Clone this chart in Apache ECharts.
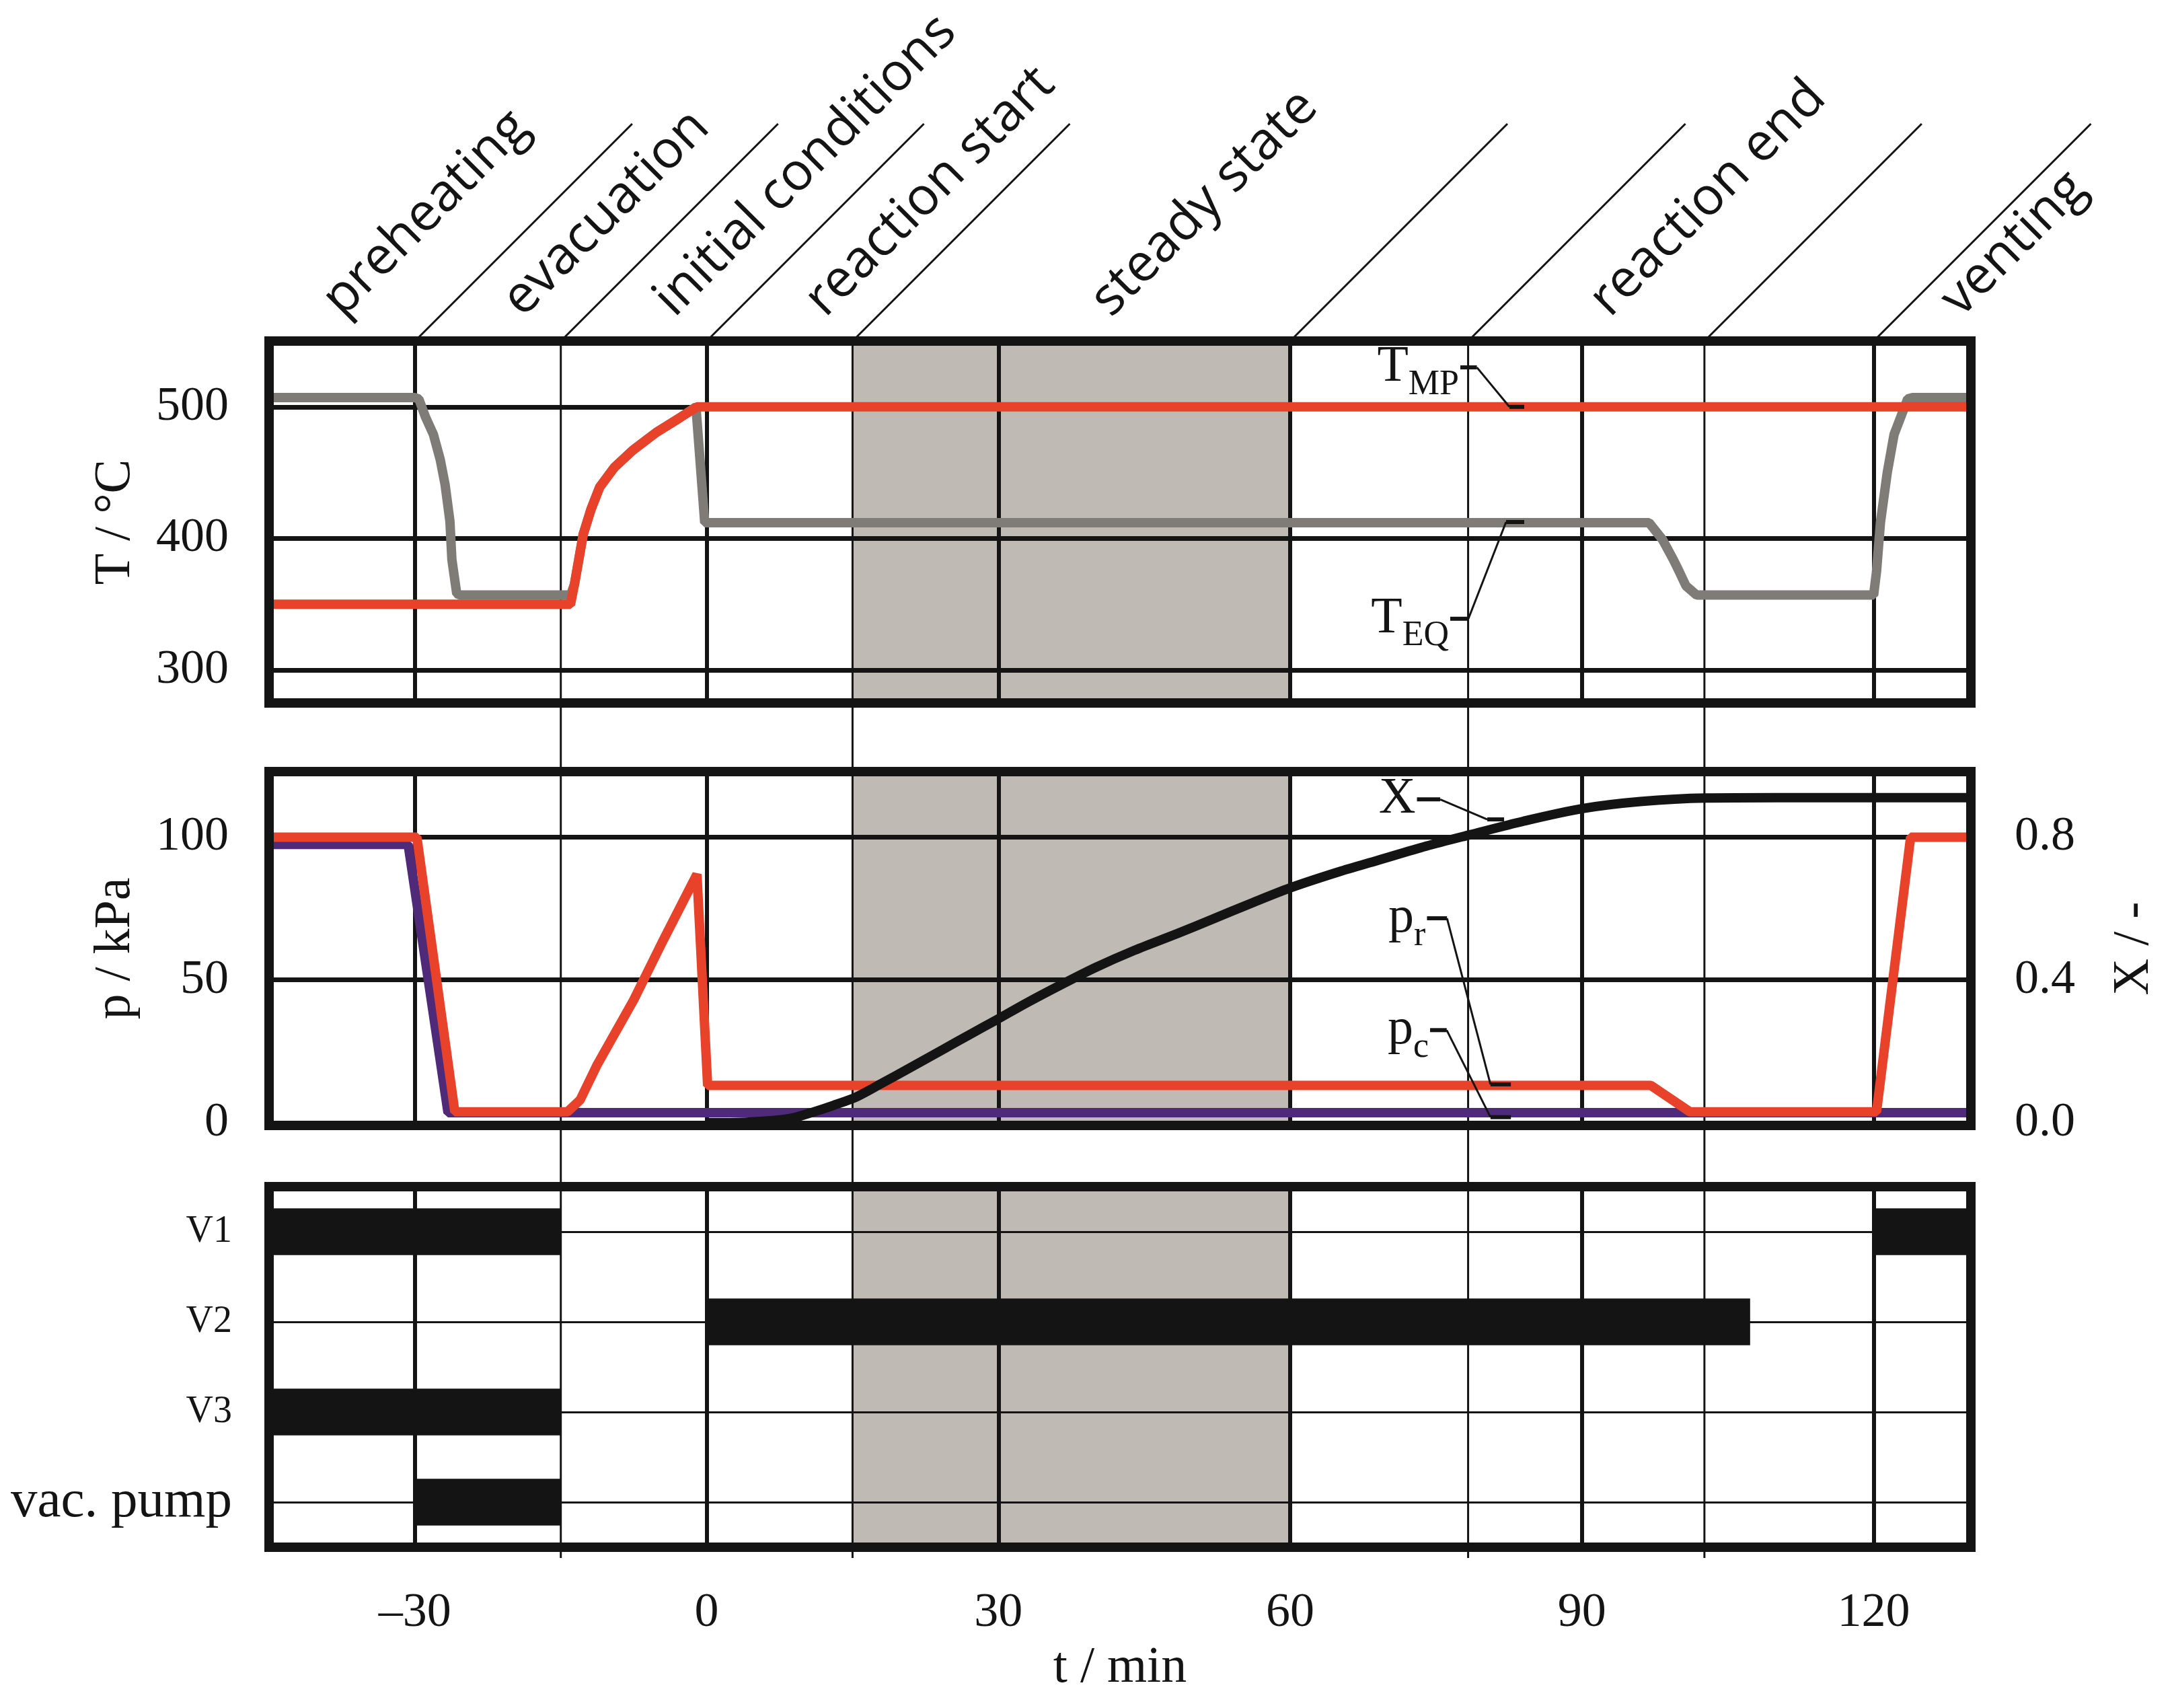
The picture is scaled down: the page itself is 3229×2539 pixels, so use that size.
<!DOCTYPE html>
<html><head><meta charset="utf-8">
<script src="https://cdn.jsdelivr.net/npm/echarts@6/dist/echarts.min.js"></script>
<style>html,body{margin:0;padding:0;background:#fff}#c{width:3229px;height:2539px}</style>
</head><body><div id="c"></div>
<script>
// ---------------- data ----------------
const timeTicks = [-30, 0, 30, 60, 90, 120];
const tempTicks = [300, 400, 500];
const pressTicks = [0, 50, 100];
const convTicks = [0.0, 0.4, 0.8];
const phaseBounds = [-30, -15, 0, 15, 60, 78.3, 102.6, 120];
const phaseThin = [-15, 15, 78.3, 102.6];
const phaseNames = ['preheating', 'evacuation', 'initial conditions', 'reaction start', 'steady state', 'reaction end', 'venting'];
const phaseLabelT = [-36.6, -18.1, -2.5, 13.0, 42.4, 93.7, 129.8];
const steadyState = [15, 60];

const T_MP = [[-45,350],[-14,350],[-13.6,365],[-13.15,384],[-12.7,403],[-11.9,422],[-11,439],[-9.5,454],[-7.6,467],[-5.2,480.5],[-2.7,492],[-1,500],[130,500]];
const T_EQ = [[-45,507],[-30,507],[-29.6,506],[-28.9,492],[-28.1,479],[-27.4,460],[-26.9,441],[-26.4,413],[-26.2,384],[-25.7,358],[-25.3,357],[-14,357],[-13.6,365],[-13.15,384],[-12.7,403],[-11.9,422],[-11,439],[-9.5,454],[-7.6,467],[-5.2,480.5],[-2.7,492],[-1.1,500],[-0.2,412],[96.9,412],[98.3,399],[99.4,384],[100,375],[100.7,364],[101.8,357],[120,357],[120.3,375],[120.7,412],[121.4,450],[122.1,479],[123.5,506],[124,507],[130,507]];
const p_r = [[-45,100],[-29.8,100],[-25.9,3.8],[-14.3,3.8],[-13,8],[-11.3,20],[-7.5,43],[-4.6,63],[-1,87],[0.1,13],[97.1,13],[101.1,3.8],[120.3,3.8],[123.8,100],[130,100]];
const p_c = [[-45,97.5],[-30.7,97.5],[-26.6,3.5],[130,3.5]];
const X = [[0,0],[4,0.001],[7,0.006],[9,0.014],[11,0.03],[13,0.048],[15.4,0.072],[18,0.11],[21,0.155],[24.3,0.205],[27,0.246],[29.8,0.288],[33,0.337],[36.7,0.39],[40,0.435],[44,0.483],[48.4,0.53],[52,0.57],[56,0.615],[60,0.658],[65,0.703],[69,0.735],[74,0.775],[78.5,0.807],[84,0.845],[90,0.88],[96,0.9],[102.8,0.91],[110,0.911],[130,0.911]];

const valveRows = ['V1', 'V2', 'V3', 'vac. pump'];
const valveBarRow = ['V1', 'V1', 'V2', 'V3', 'vac. pump'];
const valveStart = [-45, 120, 0, -45, -30];
const valveEnd = [-15, 130, 107.3, -15, -15];

// callouts: leader paths [t1,v1,t2,v2,t3,v3,t4,v4]
const tempCalloutMain = ['T', 'T'];
const tempCalloutSub = ['MP', 'EQ'];
const tempCalloutPath = [[77.5,530,79.2,530,82.55,500,84.07,500],[76.46,339,78.33,339,82.2,412.5,84.07,412.5]];
const pressCalloutMain = ['p', 'p'];
const pressCalloutSub = ['r', 'c'];
const pressCalloutPath = [[74.07,71.6,76.13,71.6,80.6,13.4,82.7,13.4],[74.39,32.4,76.1,32.4,80.6,1.9,82.7,1.9]];
const convCalloutMain = ['X'];
const convCalloutSub = [''];
const convCalloutPath = [[73.04,0.906,75.43,0.906,80.27,0.85,82.0,0.85]];

// ---------------- style / layout ----------------
const INK = '#141414', RED = '#e8422b', GRAY = '#7f7b76', PURPLE = '#4e2a78', SHADE = '#bfbab4';
const SERIF = 'Liberation Serif', SANS = 'Open Sans';
const L = {left: 400, width: 2530, p1: {top: 507, h: 538}, p2: {top: 1147, h: 526}, p3: {top: 1764, h: 536}, diagTop: 184, labelBase: 485};

const mc = document.createElement('canvas').getContext('2d');
function tw(txt, size, fam) { mc.font = size + 'px "' + fam + '"'; return mc.measureText(txt).width; }

const borderLine = {show: true, onZero: false, lineStyle: {color: INK, width: 14, cap: 'square'}};
const labelFont = {fontFamily: SERIF, fontSize: 72, color: INK};
const nameFont = {fontFamily: SERIF, fontSize: 76, color: INK};

function xAx(gridIndex, position, showLabels) {
  const a = {type: 'value', gridIndex, position, min: -45, max: 130, interval: 15, z: 10,
    axisLine: borderLine, axisTick: {show: false}, splitLine: {show: false}, axisLabel: {show: false}};
  if (showLabels) {
    a.axisLabel = Object.assign({show: true, margin: 62,
      formatter: v => timeTicks.includes(v) ? (v < 0 ? '\u2013' + (-v) : String(v)) : ''}, labelFont);
    a.name = 't / min'; a.nameLocation = 'middle'; a.nameGap = 142; a.nameTextStyle = nameFont;
  }
  return a;
}
function plainY(gridIndex, position) {
  return {type: 'value', gridIndex, position, min: 0, max: 1, z: 10, axisLine: borderLine,
    axisTick: {show: false}, splitLine: {show: false}, axisLabel: {show: false}};
}

function frameSeries(xi, yi, hVals, hWidth) {
  return [
    {type: 'line', xAxisIndex: xi, yAxisIndex: yi, data: [], z: 1, silent: true,
      markArea: {z: 1, silent: true, itemStyle: {color: SHADE}, data: [[{xAxis: steadyState[0]}, {xAxis: steadyState[1]}]]}},
    {type: 'line', xAxisIndex: xi, yAxisIndex: yi, data: [], z: 2, silent: true,
      markLine: {z: 2, silent: true, symbol: ['none', 'none'], label: {show: false}, animation: false,
        data: timeTicks.map(t => ({xAxis: t, lineStyle: {color: INK, width: 6, type: 'solid'}}))
          .concat(hVals.map(v => ({yAxis: v, lineStyle: {color: INK, width: hWidth, type: 'solid'}})))}}
  ];
}

function calloutSeries(xi, yi, mains, subs, paths) {
  return {type: 'custom', xAxisIndex: xi, yAxisIndex: yi, z: 6, silent: true,
    encode: {x: [0, 2, 4, 6], y: [1, 3, 5, 7]},
    data: paths,
    renderItem(params, api) {
      const i = params.dataIndex;
      const pts = [0, 1, 2, 3].map(k => api.coord([api.value(2 * k), api.value(2 * k + 1)]));
      const sub = subs[i], main = mains[i];
      const wSub = sub ? tw(sub, 52, SERIF) : 0;
      const gap = 2;
      const kids = [
        {type: 'line', shape: {x1: pts[0][0], y1: pts[0][1], x2: pts[1][0], y2: pts[1][1]}, style: {stroke: INK, lineWidth: 6}},
        {type: 'line', shape: {x1: pts[1][0], y1: pts[1][1], x2: pts[2][0], y2: pts[2][1]}, style: {stroke: INK, lineWidth: 3}},
        {type: 'line', shape: {x1: pts[2][0], y1: pts[2][1], x2: pts[3][0], y2: pts[3][1]}, style: {stroke: INK, lineWidth: 6}},
        {type: 'text', x: pts[0][0] - gap - wSub, y: pts[0][1],
          style: {text: main, fontSize: 76, fontFamily: SERIF, fill: INK, align: 'right', verticalAlign: 'middle'}}
      ];
      if (sub) kids.push({type: 'text', x: pts[0][0] - gap, y: pts[0][1] + 26,
        style: {text: sub, fontSize: 52, fontFamily: SERIF, fill: INK, align: 'right', verticalAlign: 'middle'}});
      return {type: 'group', children: kids};
    }};
}

const option = {
  animation: false,
  backgroundColor: '#ffffff',
  textStyle: {fontFamily: SERIF},
  grid: [
    {left: L.left, width: L.width, top: L.p1.top, height: L.p1.h, outerBoundsMode: 'none'},
    {left: L.left, width: L.width, top: L.p2.top, height: L.p2.h, outerBoundsMode: 'none'},
    {left: L.left, width: L.width, top: L.p3.top, height: L.p3.h, outerBoundsMode: 'none'},
    {left: L.left, width: L.width, top: 20, height: 2300, outerBoundsMode: 'none'}
  ],
  xAxis: [
    xAx(0, 'bottom', false), xAx(0, 'top', false),
    xAx(1, 'bottom', false), xAx(1, 'top', false),
    xAx(2, 'bottom', true), xAx(2, 'top', false),
    {type: 'value', gridIndex: 3, min: -45, max: 130, show: false}
  ],
  yAxis: [
    {type: 'value', gridIndex: 0, position: 'left', min: 275, max: 550, interval: 25, z: 10,
      axisLine: borderLine, axisTick: {show: false}, splitLine: {show: false},
      axisLabel: Object.assign({margin: 60, formatter: v => tempTicks.includes(v) ? String(v) : ''}, labelFont),
      name: 'T / \u00B0C', nameLocation: 'middle', nameGap: 190, nameTextStyle: nameFont},
    plainY(0, 'right'),
    {type: 'value', gridIndex: 1, position: 'left', min: -1, max: 123, interval: 1, z: 10,
      axisLine: borderLine, axisTick: {show: false}, splitLine: {show: false},
      axisLabel: Object.assign({margin: 60, formatter: v => pressTicks.includes(v) ? String(v) : ''}, labelFont),
      name: 'p / kPa', nameLocation: 'middle', nameGap: 190, nameTextStyle: nameFont},
    {type: 'value', gridIndex: 1, position: 'right', min: -0.008, max: 0.984, interval: 0.008, z: 10,
      axisLine: borderLine, axisTick: {show: false}, splitLine: {show: false},
      axisLabel: Object.assign({margin: 65, formatter: v => convTicks.some(c => Math.abs(c - v) < 1e-6) ? v.toFixed(1) : ''}, labelFont),
      name: 'X / -', nameLocation: 'middle', nameGap: 205, nameTextStyle: nameFont},
    {type: 'category', gridIndex: 2, position: 'left', data: valveRows, inverse: true, z: 10,
      axisLine: borderLine, axisTick: {show: false}, splitLine: {show: false},
      axisLabel: {margin: 55, color: INK, fontFamily: SERIF,
        formatter: v => v === 'vac. pump' ? '{b|' + v + '}' : '{s|' + v + '}',
        rich: {b: {fontSize: 79, fontFamily: SERIF, color: INK}, s: {fontSize: 56, fontFamily: SERIF, color: INK}}}},
    plainY(2, 'right'),
    {type: 'value', gridIndex: 3, min: 0, max: 1, show: false}
  ],
  series: [
    ...frameSeries(0, 0, tempTicks, 7),
    ...frameSeries(2, 2, [50, 100], 7),
    ...frameSeries(4, 4, valveRows, 3),
    // phase boundary lines
    {type: 'custom', xAxisIndex: 6, yAxisIndex: 6, z: 2, silent: true,
      data: phaseBounds.map(t => [t, 0]),
      renderItem(params, api) {
        const t = api.value(0);
        const x = api.coord([t, 0])[0];
        const rise = L.p1.top - L.diagTop;
        const kids = [{type: 'line', shape: {x1: x, y1: L.p1.top, x2: x + rise, y2: L.diagTop}, style: {stroke: INK, lineWidth: 3}}];
        if (phaseThin.includes(t)) kids.push({type: 'line', shape: {x1: x, y1: L.p1.top, x2: x, y2: L.p3.top + L.p3.h + 16}, style: {stroke: INK, lineWidth: 3}});
        return {type: 'group', children: kids};
      }},
    // phase labels
    {type: 'custom', xAxisIndex: 6, yAxisIndex: 6, z: 2, silent: true,
      data: phaseLabelT.map(t => [t, 0]),
      renderItem(params, api) {
        const x = api.coord([api.value(0), 0])[0];
        return {type: 'text', x: x, y: L.labelBase, rotation: Math.PI / 4,
          style: {text: phaseNames[params.dataIndex], fontSize: 78, fontFamily: SANS, fill: INK, align: 'left', verticalAlign: 'bottom'}};
      }},
    // panel 1
    {type: 'line', name: 'T_EQ', xAxisIndex: 0, yAxisIndex: 0, data: T_EQ, showSymbol: false, symbol: 'none', z: 3, lineStyle: {color: GRAY, width: 14}},
    {type: 'line', name: 'T_MP', xAxisIndex: 0, yAxisIndex: 0, data: T_MP, showSymbol: false, symbol: 'none', z: 4, lineStyle: {color: RED, width: 14}},
    // panel 2
    {type: 'line', name: 'p_c', xAxisIndex: 2, yAxisIndex: 2, data: p_c, showSymbol: false, symbol: 'none', z: 3, lineStyle: {color: PURPLE, width: 14}},
    {type: 'line', name: 'p_r', xAxisIndex: 2, yAxisIndex: 2, data: p_r, showSymbol: false, symbol: 'none', z: 4, lineStyle: {color: RED, width: 14}},
    {type: 'line', name: 'X', xAxisIndex: 2, yAxisIndex: 3, data: X, showSymbol: false, symbol: 'none', z: 5,
      smooth: 0.3, lineStyle: {color: INK, width: 14}},
    // panel 3 valve bars
    {type: 'custom', xAxisIndex: 4, yAxisIndex: 4, z: 5, silent: true,
      encode: {x: [0, 2], y: 1},
      data: valveBarRow.map((r, i) => [valveStart[i], r, valveEnd[i]]),
      renderItem(params, api) {
        const row = api.value(1);
        const a = api.coord([api.value(0), row]);
        const b = api.coord([api.value(2), row]);
        const h = api.size([0, 1])[1] * 0.52;
        return {type: 'rect', shape: {x: a[0], y: a[1] - h / 2, width: b[0] - a[0], height: h}, style: {fill: INK}};
      }},
    calloutSeries(0, 0, tempCalloutMain, tempCalloutSub, tempCalloutPath),
    calloutSeries(2, 2, pressCalloutMain, pressCalloutSub, pressCalloutPath),
    calloutSeries(2, 3, convCalloutMain, convCalloutSub, convCalloutPath)
  ]
};

const chart = echarts.init(document.getElementById('c'), null, {renderer: 'canvas', width: 3229, height: 2539});
chart.setOption(option);
</script>
</body></html>
